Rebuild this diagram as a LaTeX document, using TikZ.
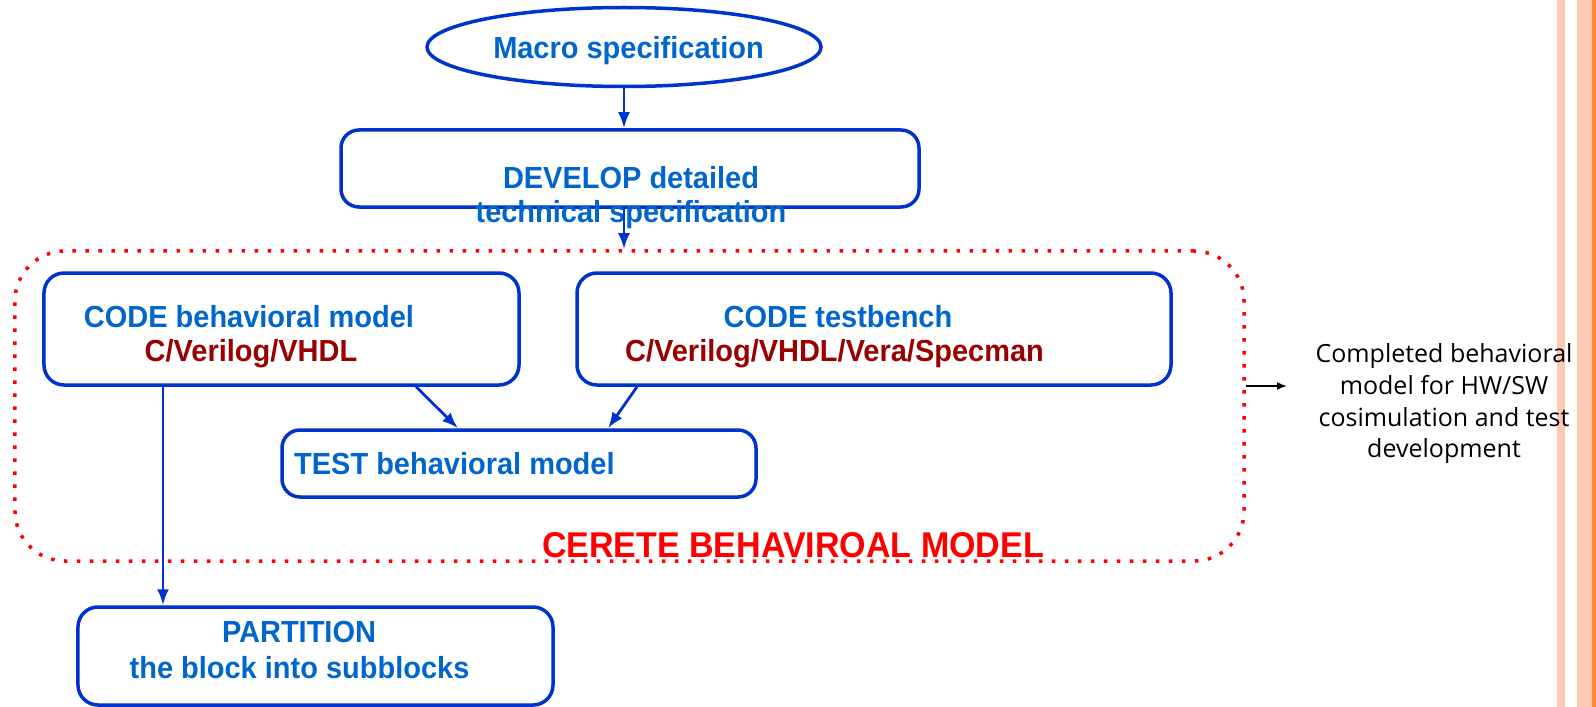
\documentclass[tikz,border=0pt]{standalone}
\usepackage{fontspec}
\setmainfont{Liberation Sans}
\newfontfamily\boxfont{Liberation Sans}[FakeStretch=0.95]
\newfontfamily\notefont{Open Sans}
\usetikzlibrary{arrows.meta,shapes.geometric}
\definecolor{bord}{RGB}{0,51,204}
\definecolor{txtblue}{RGB}{0,102,204}
\definecolor{dred}{RGB}{153,0,0}
\definecolor{peach}{RGB}{255,200,178}
\definecolor{dorange}{RGB}{255,136,51}
\begin{document}
\begin{tikzpicture}[x=1bp,y=-1bp,
  box/.style={draw=bord,line width=3.5bp,rounded corners=18bp,inner sep=0pt},
  btext/.style={text=txtblue,font=\boxfont\bfseries\fontsize{30.5bp}{36bp}\selectfont,inner sep=0pt,anchor=base},
  rtext/.style={btext,text=dred},
  flow/.style={draw=bord,line width=2.8bp,-{Latex[length=16bp,width=12bp]}},
  note/.style={font=\notefont\fontsize{25bp}{32bp}\selectfont,inner sep=0pt,anchor=base}]
\useasboundingbox[fill=white] (0,0) rectangle (1596,707);
% side stripes
\fill[peach] (1557,0) rectangle (1565,707);
\fill[peach] (1577,0) rectangle (1592,707);
\fill[dorange] (1592,0) rectangle (1596,707);
% frame
\node[draw=red,line width=3.5bp,dash pattern=on 3.5bp off 9.5bp,rounded corners=50bp,
      minimum width=1229bp,minimum height=310bp,inner sep=0pt] (frame) at (629.5,406) {};
% shapes
\node[ellipse,draw=bord,line width=3.5bp,minimum width=394bp,minimum height=79bp,inner sep=0pt] (macro) at (624,47) {};
\node[box,minimum width=578bp,minimum height=77bp] (dev) at (630,168.5) {};
\node[box,rounded corners=20bp,minimum width=475bp,minimum height=112bp] (cbm) at (281.5,329) {};
\node[box,rounded corners=20bp,minimum width=594bp,minimum height=112bp] (ctb) at (874,329) {};
\node[box,minimum width=474bp,minimum height=67bp] (test) at (519,463.5) {};
\node[box,rounded corners=20bp,minimum width=475bp,minimum height=98bp] (part) at (315.5,656) {};
% texts
\node[btext] (tmacro) at (628.5,59) {Macro specification};
\node[btext] (tdev1) at (631,188) {DEVELOP detailed};
\node[btext] (tdev2) at (631,222) {technical specification};
\node[btext] (tcbm1) at (249,327) {CODE behavioral model};
\node[rtext] (tcbm2) at (251,361) {C/Verilog/VHDL};
\node[btext] (tctb1) at (838,327) {CODE testbench};
\node[rtext] (tctb2) at (834.5,361) {C/Verilog/VHDL/Vera/Specman};
\node[btext,anchor=base west] (ttest) at (294,474) {TEST behavioral model};
\node[btext] (tpart1) at (299,642) {PARTITION};
\node[btext] (tpart2) at (299.5,678) {the block into subblocks};
\node[btext,text=red,font=\boxfont\bfseries\fontsize{35.8bp}{42bp}\selectfont] (tcer) at (793,557) {CERETE BEHAVIROAL MODEL};
\node[note] (n1) at (1444,362) {Completed behavioral};
\node[note] (n2) at (1444,394) {model for HW/SW};
\node[note] (n3) at (1444,426) {cosimulation and test};
\node[note] (n4) at (1444,457) {development};
% connectors
\draw[flow] (macro.south) -- (macro.south |- dev.north);
\draw[flow] (dev.south -| macro.south) -- (frame.north -| macro.south);
\draw[flow] (cbm.south -| 416,0) -- (test.north -| 458,0);
\draw[flow] (ctb.south -| 637,0) -- (test.north -| 608,0);
\draw[flow] (cbm.south -| 163,0) -- (part.north -| 163,0);
\coordinate (outB) at (1287,386);
\draw[black,line width=1.8bp,-{Latex[length=10bp,width=8bp]}] (frame.east |- 0,386) -- (outB);
\end{tikzpicture}
\end{document}
